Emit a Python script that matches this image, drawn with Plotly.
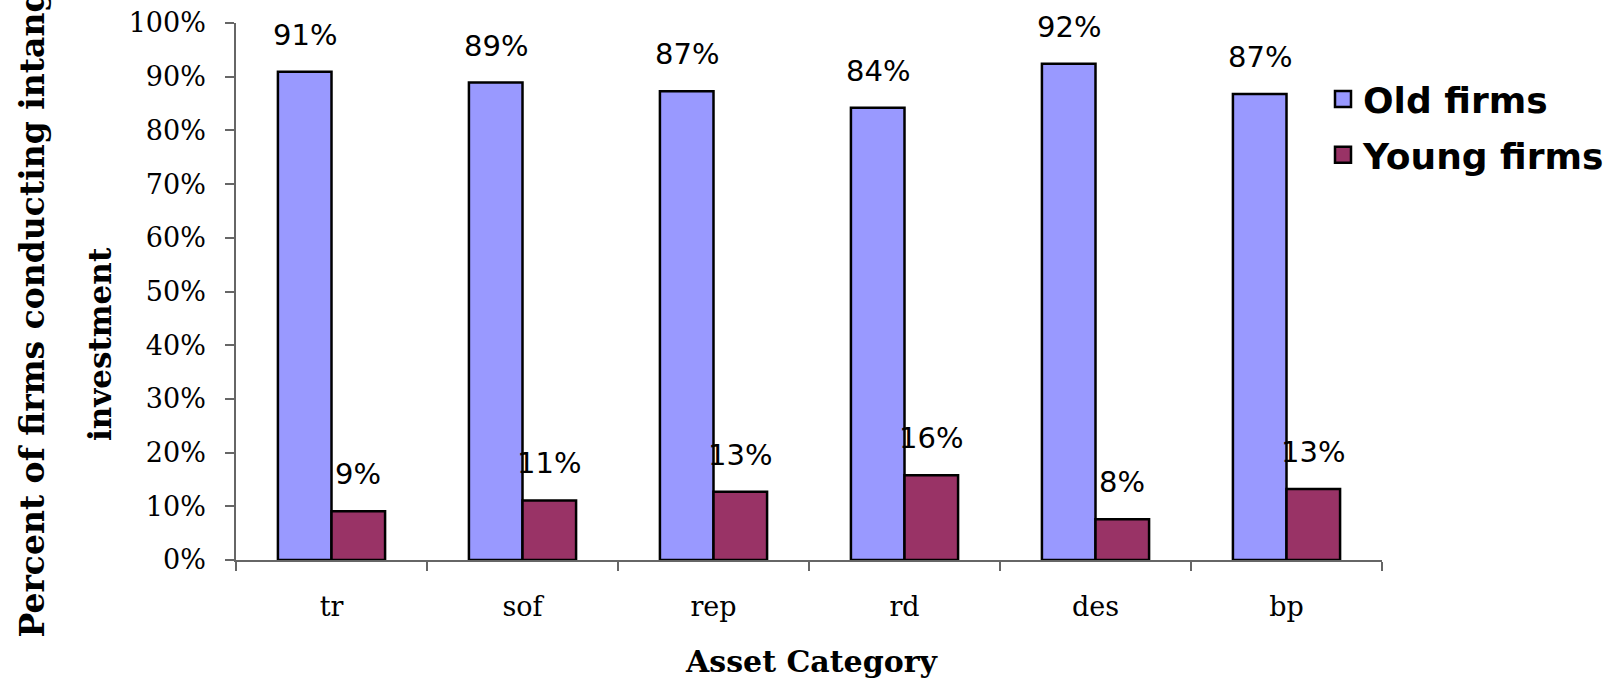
import plotly.graph_objects as go

categories = ["tr", "sof", "rep", "rd", "des", "bp"]
old_firms = [90.9, 88.9, 87.3, 84.2, 92.4, 86.8]
young_firms = [9.1, 11.1, 12.7, 15.8, 7.6, 13.2]
y_ticks = [0, 10, 20, 30, 40, 50, 60, 70, 80, 90, 100]

OLD_COLOR = "#9999FF"
YOUNG_COLOR = "#993366"
AXIS_COLOR = "#666666"

W, H = 1614, 682
L, R, T, B = 236, 232, 23, 122
PW = W - L - R
PH = H - T - B


def px_x(p):
    return (p - L) / PW


def px_y(p):
    return (H - B - p) / PH


fig = go.Figure()
fig.add_trace(go.Bar(
    x=categories, y=old_firms, name="Old firms", showlegend=False,
    marker=dict(color=OLD_COLOR, line=dict(color="black", width=2.5)),
))
fig.add_trace(go.Bar(
    x=categories, y=young_firms, name="Young firms", showlegend=False,
    marker=dict(color=YOUNG_COLOR, line=dict(color="black", width=2.5)),
))
# legend proxies
for nm, col in [("Old firms", OLD_COLOR), ("Young firms", YOUNG_COLOR)]:
    fig.add_trace(go.Scatter(
        x=[None], y=[None], mode="markers", name=nm, legendgroup=nm,
        marker=dict(symbol="square", size=20, color=col,
                    line=dict(color="black", width=2.5)),
    ))

bar_half = 190.7 * (1 - 0.439) / 4
annotations = []
for c, v in zip(categories, old_firms):
    annotations.append(dict(x=c, y=v, text=f"{round(v)}%", showarrow=False,
                            xshift=-bar_half, yshift=37, yanchor="middle",
                            font=dict(family="DejaVu Sans", size=29, color="black")))
for c, v in zip(categories, young_firms):
    annotations.append(dict(x=c, y=v, text=f"{round(v)}%", showarrow=False,
                            xshift=bar_half, yshift=37, yanchor="middle",
                            font=dict(family="DejaVu Sans", size=29, color="black")))

title_font = dict(family="DejaVu Serif", size=31, color="black")
annotations.append(dict(xref="paper", yref="paper", x=px_x(32), y=px_y(640),
                        xanchor="center", yanchor="bottom", textangle=-90,
                        text="<b>Percent of firms conducting intangible</b>",
                        showarrow=False, font=dict(family="DejaVu Serif", size=33, color="black")))
annotations.append(dict(xref="paper", yref="paper", x=px_x(100), y=px_y(344),
                        xanchor="center", yanchor="middle", textangle=-90,
                        text="<b>investment</b>", showarrow=False, font=title_font))
annotations.append(dict(xref="paper", yref="paper", x=px_x(811), y=px_y(661),
                        xanchor="center", yanchor="middle",
                        text="<b>Asset Category</b>", showarrow=False,
                        font=dict(family="DejaVu Serif", size=30, color="black")))

fig.update_layout(
    width=W, height=H,
    margin=dict(l=L, r=R, t=T, b=B, pad=0, autoexpand=False),
    paper_bgcolor="white", plot_bgcolor="white",
    barmode="group", bargap=0.439, bargroupgap=0,
    showlegend=True,
    legend=dict(xref="container", yref="container",
                x=1323 / W, y=1 - 69 / H, xanchor="left", yanchor="top",
                font=dict(family="DejaVu Sans", size=36, color="black", weight="bold"),
                itemsizing="trace", tracegroupgap=6, bgcolor="rgba(0,0,0,0)"),
    annotations=annotations,
    xaxis=dict(
        type="category", showline=True, linecolor=AXIS_COLOR, linewidth=1.5,
        ticks="outside", tickson="boundaries", ticklen=9, tickcolor=AXIS_COLOR,
        tickwidth=1.5, showgrid=False, zeroline=False, ticklabelstandoff=22,
        automargin=False,
        tickfont=dict(family="DejaVu Serif", size=27, color="black"),
    ),
    yaxis=dict(
        range=[0, 100], tickvals=y_ticks, ticktext=[f"{t}%" for t in y_ticks],
        showline=True, linecolor=AXIS_COLOR, linewidth=1.5,
        ticks="outside", ticklen=9, tickcolor=AXIS_COLOR, tickwidth=1.5,
        showgrid=False, zeroline=False, ticklabelstandoff=14, automargin=False,
        tickfont=dict(family="DejaVu Serif", size=27, color="black"),
    ),
)

fig.write_html("out.html")
